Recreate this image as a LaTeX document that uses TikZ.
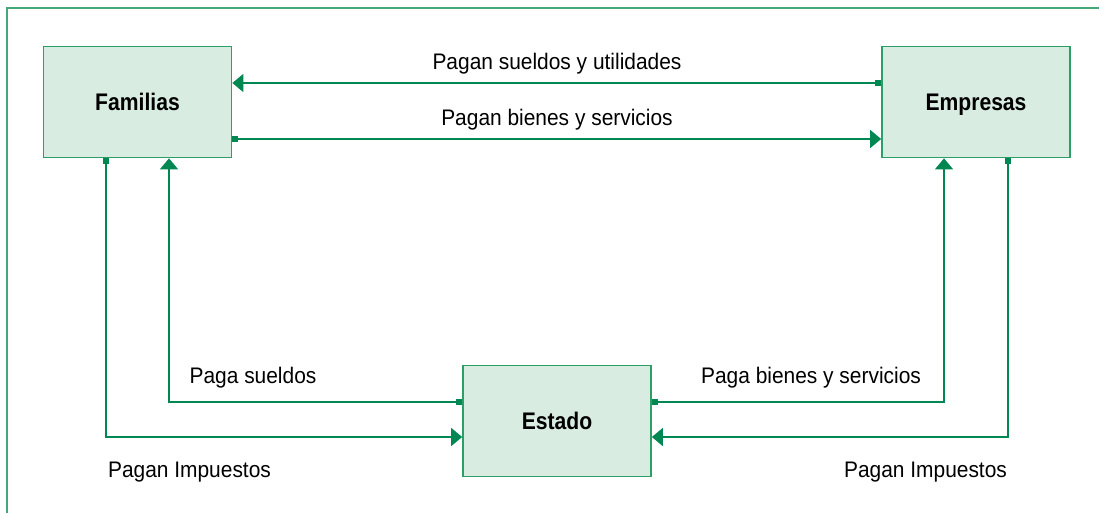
\documentclass[tikz,border=0pt]{standalone}
\usepackage{fontspec}
\setmainfont[FakeStretch=0.93]{Liberation Sans}
\newfontfamily\boldcond[FakeStretch=0.88]{Liberation Sans Bold}
\usetikzlibrary{arrows.meta}
\definecolor{framegreen}{RGB}{70,168,120}
\definecolor{boxfill}{RGB}{217,236,226}
\definecolor{boxline}{RGB}{45,158,102}
\definecolor{flowgreen}{RGB}{0,135,82}
\tikzset{
  entity/.style={draw=boxline, line width=1.7pt, fill=boxfill, minimum width=188pt, minimum height=111pt,
     inner sep=0pt, font=\boldcond\fontsize{24}{28}\selectfont, text height=17pt, text depth=0pt},
  flow/.style={draw=flowgreen, line width=1.6pt,
     {Square[length=6pt,width=6pt,fill=flowgreen]}-{Triangle[length=11pt,width=18pt,fill=flowgreen]}},
  lbl/.style={font=\fontsize{22.5}{26}\selectfont, anchor=base, inner sep=0pt, text=black}
}
\begin{document}
\begin{tikzpicture}[x=1pt,y=-1pt]
\useasboundingbox (0,0) rectangle (1099,512);
\draw[framegreen, line width=1.6pt] (7,515) -- (7,8) -- (1102,8);

\node[entity] (fam) at (137.5,102) {Familias};
\node[entity] (emp) at (976,102) {Empresas};
\node[entity] (est) at (557,421) {Estado};

\draw[flow] ([yshift=19pt]emp.west) -- ([yshift=19pt]fam.east);
\draw[flow] ([yshift=-37pt]fam.east) -- ([yshift=-37pt]emp.west);
\draw[flow] ([xshift=-31.5pt]fam.south) |- ([yshift=-16pt]est.west);
\draw[flow] ([yshift=19pt]est.west) -| ([xshift=31.5pt]fam.south);
\draw[flow] ([yshift=19pt]est.east) -| ([xshift=-32pt]emp.south);
\draw[flow] ([xshift=32pt]emp.south) |- ([yshift=-16pt]est.east);

\node[lbl] (l1) at (557,69) {Pagan sueldos y utilidades};
\node[lbl] (l2) at (557,125.5) {Pagan bienes y servicios};
\node[lbl] (l3) at (253,383) {Paga sueldos};
\node[lbl] (l4) at (811,383) {Paga bienes y servicios};
\node[lbl] (l5) at (189.5,477) {Pagan Impuestos};
\node[lbl] (l6) at (925.5,477) {Pagan Impuestos};
\end{tikzpicture}
\end{document}
